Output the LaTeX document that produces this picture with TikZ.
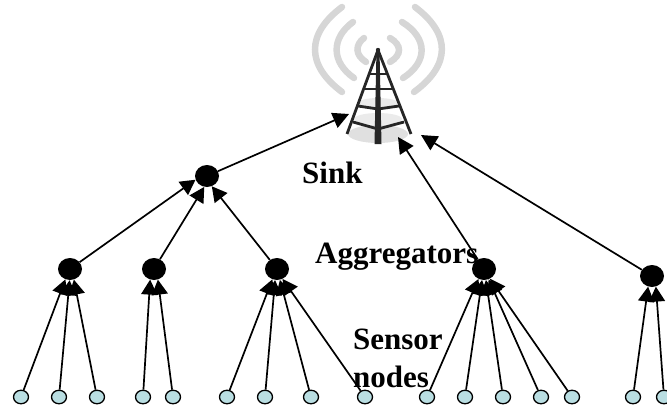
\documentclass[tikz,border=0pt]{standalone}
\usepackage{fontspec}
\setmainfont{Liberation Serif}
\usetikzlibrary{arrows.meta,shapes.geometric}
\definecolor{leaffill}{HTML}{B9DEE2}
\definecolor{wave}{HTML}{D6D6D6}
\tikzset{
  leaf/.style={ellipse,draw=black,line width=1.3pt,fill=leaffill,minimum width=15pt,minimum height=13.5pt,inner sep=0pt},
  hub/.style={ellipse,fill=black,minimum width=24pt,minimum height=22pt,inner sep=0pt},
  link/.style={line width=1.7pt,-{Triangle[width=16pt,length=15pt]}},
  uplink/.style={line width=1.7pt,-{Triangle[width=16pt,length=16pt]}},
  lbl/.style={font=\bfseries\fontsize{31}{33}\selectfont,inner sep=0pt,anchor=base west},
  wv/.style={draw=wave,line width=6.5pt,line cap=round},
  tw/.style={draw=black!85,line width=2.8pt},
}
\begin{document}
\begin{tikzpicture}[x=1pt,y=-1pt]
\useasboundingbox (0,0) rectangle (667,412);
% waves
\draw[wv] (342,7) .. controls (306,34) and (306,65) .. (342,92);
\draw[wv] (353,22) .. controls (331,38) and (331,62) .. (354,78);
\draw[wv] (364,38) .. controls (355,45) and (355,55) .. (366,62);
\draw[wv] (415,7) .. controls (451,34) and (451,65) .. (414,92);
\draw[wv] (402,22) .. controls (428,38) and (428,62) .. (403,78);
\draw[wv] (390,38) .. controls (402,45) and (402,55) .. (390,62);
% tower
\fill[black!12] (378,134) ellipse (30pt and 9pt);
\fill[black!8] (378,103) ellipse (20pt and 5pt);
\fill[black!8] (378,119) ellipse (24pt and 6pt);
\draw[tw] (378,50) -- (347,134);
\draw[tw] (378,50) -- (411,134);
\fill[black!85] (376.5,50) -- (379.5,50) -- (381.5,144) -- (374.5,144) -- cycle;
\fill[black!85] (378,50) circle (2.2pt);
\draw[tw] (369,74) -- (387,74);
\draw[tw] (364,89) -- (393,89);
\draw[tw] (358,106) -- (378,109) -- (399,106);
\draw[tw] (353,122) -- (378,129) -- (404,122);
% hubs
\node[hub] (top) at (207,176) {};
\node[hub] (a1) at (70,269) {};
\node[hub] (a2) at (154,269) {};
\node[hub] (a3) at (277,269) {};
\node[hub] (a4) at (484,269) {};
\node[hub] (a5) at (652,276) {};
% leaves
\foreach \n/\x in {l1/21,l2/59,l3/97,l4/143,l5/173,l6/227,l7/265,l8/311,l9/365,l10/427,l11/465,l12/503,l13/541,l14/572,l15/633,l16/664}
  \node[leaf] (\n) at (\x,397) {};
% tower anchors
\coordinate (t1) at (349,114);
\coordinate (t2) at (398,137);
\coordinate (t3) at (421,135);
% links
\foreach \s/\d/\ang in {l1/a1/246,l2/a1/268,l3/a1/290,l4/a2/250,l5/a2/290,l6/a3/246,l7/a3/260,l8/a3/285,l9/a3/299,l10/a4/241,l11/a4/260,l12/a4/280,l13/a4/294,l14/a4/302,l15/a5/250,l16/a5/290}
  \draw[link] (\s) -- (\d.\ang);
\draw[link] (a1) -- (top.198);
\draw[link] (a2) -- (top.256);
\draw[link] (a3) -- (top.295);
\draw[uplink] (top) -- (t1);
\draw[uplink] (a4) -- (t2);
\draw[uplink] (a5) -- (t3);
% labels
\node[lbl] (sink) at (302,183) {Sink};
\node[lbl] (agg) at (315,263) {Aggregators};
\node[lbl] (sen) at (353,349) {Sensor};
\node[lbl] (nod) at (353,387) {nodes};
\end{tikzpicture}
\end{document}
